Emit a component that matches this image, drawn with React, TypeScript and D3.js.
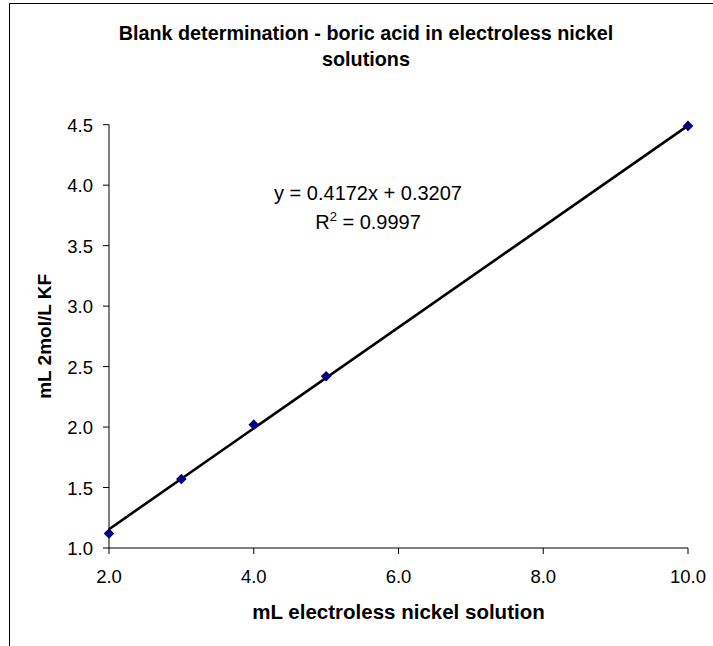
import React from "react";
import * as d3 from "d3";

const xValues = [2, 3, 4, 5, 10];
const yValues = [1.12, 1.57, 2.02, 2.42, 4.49];
const xTicks = [2, 4, 6, 8, 10];
const yTicks = [1.0, 1.5, 2.0, 2.5, 3.0, 3.5, 4.0, 4.5];
const slope = 0.4172;
const intercept = 0.3207;
const titleLines = ["Blank determination - boric acid in electroless nickel", "solutions"];
const xTitle = "mL electroless nickel solution";
const yTitle = "mL 2mol/L KF";

export default function App() {
  const W = 713, H = 646;
  const x = d3.scaleLinear().domain([2, 10]).range([109, 688]);
  const y = d3.scaleLinear().domain([1, 4.5]).range([548, 124.7]);
  const font = "'Liberation Sans', Arial, sans-serif";
  const fs = 18.5;
  const lineGen = d3.line<number>().x(d => x(d)).y(d => y(slope * d + intercept));
  const marker = d3.symbol().type(d3.symbolSquare).size(56)();
  return (
    <svg width={W} height={H} style={{ position: "absolute", left: 0, top: 0, background: "#fff" }}>
      <rect x={0} y={0} width={W} height={H} fill="#fff" />
      <path d={`M9.5,${H + 5} V3.5 H${W + 5}`} fill="none" stroke="#000" strokeWidth={1} />
      {titleLines.map((t, i) => (
        <text key={i} x={366} y={40 + i * 26} textAnchor="middle" fontFamily={font} fontWeight="bold" fontSize={19.8}>{t}</text>
      ))}
      {/* axes */}
      <line x1={x(2)} x2={x(2)} y1={y(4.5)} y2={y(1)} stroke="#000" strokeWidth={1} />
      <line x1={x(2)} x2={x(10)} y1={y(1)} y2={y(1)} stroke="#000" strokeWidth={1} />
      {yTicks.map(t => (
        <g key={t}>
          <line x1={x(2) - 6} x2={x(2)} y1={y(t)} y2={y(t)} stroke="#000" />
          <text x={93} y={y(t) + 7} textAnchor="end" fontFamily={font} fontSize={fs}>{d3.format(".1f")(t)}</text>
        </g>
      ))}
      {xTicks.map(t => (
        <g key={t}>
          <line x1={x(t)} x2={x(t)} y1={y(1)} y2={y(1) + 6} stroke="#000" />
          <text x={x(t)} y={583} textAnchor="middle" fontFamily={font} fontSize={fs}>{d3.format(".1f")(t)}</text>
        </g>
      ))}
      <text x={(x(2) + x(10)) / 2} y={619} textAnchor="middle" fontFamily={font} fontWeight="bold" fontSize={20.5}>{xTitle}</text>
      <text transform={`translate(51,${(y(1) + y(4.5)) / 2}) rotate(-90)`} textAnchor="middle" fontFamily={font} fontWeight="bold" fontSize={19}>{yTitle}</text>
      <path d={lineGen([2, 10]) || ""} fill="none" stroke="#000" strokeWidth={2.6} />
      {xValues.map((xv, i) => (
        <path key={i} d={marker || ""} transform={`translate(${x(xv)},${y(yValues[i])}) rotate(45)`} fill="#000080" />
      ))}
      <text x={368} y={200} textAnchor="middle" fontFamily={font} fontSize={20}>y = 0.4172x + 0.3207</text>
      <text x={368} y={229} textAnchor="middle" fontFamily={font} fontSize={20}>
        R<tspan dy={-8} fontSize={13}>2</tspan><tspan dy={8}> = 0.9997</tspan>
      </text>
    </svg>
  );
}
